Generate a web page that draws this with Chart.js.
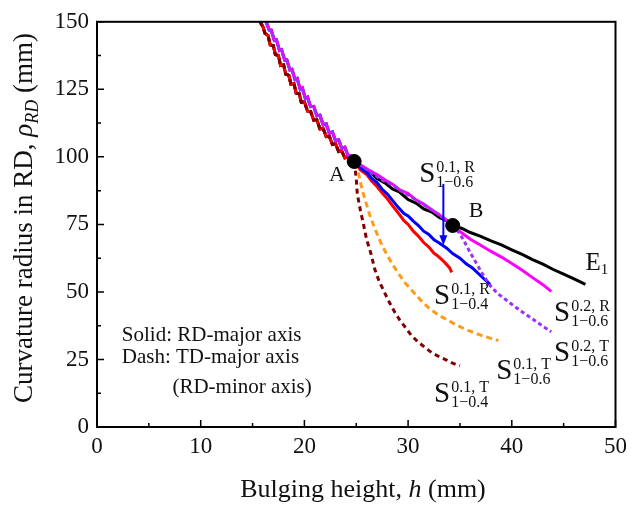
<!DOCTYPE html>
<html>
<head>
<meta charset="utf-8">
<script src="https://cdn.jsdelivr.net/npm/chart.js@4.4.1/dist/chart.umd.min.js"></script>
<style>
  html, body { margin: 0; padding: 0; background: #fff; }
  #wrap { width: 633px; height: 506px; }
</style>
</head>
<body>
<div id="wrap"><canvas id="grafico"></canvas></div>
<script>
// Trecho comum antes do ponto A (duas faixas, lado esquerdo e direito do feixe)
const trunkA_h   = [15.7, 16.0, 16.2, 16.5, 16.7, 17.0, 17.2, 17.5, 17.7, 18.0, 18.2, 18.5, 18.7, 19.0, 19.2, 19.5, 19.7, 20.0, 20.3, 20.6, 20.9, 21.2, 21.5, 21.8, 22.1, 22.4, 22.7, 23.0, 23.3, 23.6, 23.9, 24.2, 24.5, 24.8];
const trunkA_rho = [150, 148.2, 145.7, 144.9, 141.4, 141.2, 137.9, 137.5, 133.8, 134.0, 130.6, 130.2, 126.9, 127.1, 123.6, 123.4, 120.2, 120.4, 116.9, 116.8, 113.6, 113.7, 110.3, 110.6, 107.5, 107.6, 104.6, 104.9, 102.0, 102.2, 99.6, 99.9, 98.7, 98.3];
const trunkB_h   = [16.3, 16.6, 16.8, 17.1, 17.3, 17.6, 17.8, 18.1, 18.3, 18.6, 18.8, 19.1, 19.3, 19.6, 19.8, 20.1, 20.3, 20.6, 20.9, 21.2, 21.5, 21.8, 22.1, 22.4, 22.7, 23.0, 23.3, 23.6, 23.9, 24.2, 24.5, 24.8];
const trunkB_rho = [150, 147.0, 146.9, 143.1, 143.3, 139.4, 139.7, 135.8, 135.9, 132.2, 132.4, 128.6, 129.0, 125.0, 125.5, 121.5, 122.1, 118.6, 118.7, 115.2, 115.4, 111.9, 112.2, 108.8, 109.2, 106.0, 106.3, 103.2, 103.6, 100.6, 100.2, 98.3];

// Ramos depois de A
const e1_h     = [25.5, 26.2, 27.0, 27.8, 28.5, 29.2, 30.0, 30.8, 31.5, 32.3, 33.0, 33.7, 34.3, 35.2, 36.0, 37.0, 38.0, 39.0, 40.0, 41.0, 42.0, 43.0, 44.0, 45.0, 46.0, 47.1];
const e1_rho   = [96.2, 94.9, 92.0, 90.3, 88.1, 86.9, 84.2, 82.8, 80.7, 79.6, 77.6, 76.4, 74.6, 73.5, 72.0, 70.6, 68.9, 67.4, 65.6, 63.9, 62.0, 60.3, 58.3, 56.6, 54.8, 52.8];
const s02r_h   = [25.5, 26.2, 27.0, 27.8, 28.5, 29.2, 30.0, 30.8, 31.5, 32.3, 33.0, 33.7, 34.3, 35.2, 36.0, 37.0, 38.0, 39.0, 40.0, 41.0, 42.0, 43.0, 43.8];
const s02r_rho = [96.8, 95.1, 93.5, 91.4, 89.9, 87.8, 86.4, 84.0, 82.5, 80.3, 78.6, 76.7, 74.6, 71.8, 69.5, 67.3, 65.0, 62.9, 60.5, 58.0, 55.3, 52.7, 50.2];
const s02t_h   = [25.5, 26.5, 27.5, 28.5, 29.5, 30.5, 31.5, 32.5, 33.5, 34.3, 35.0, 35.5, 36.0, 36.6, 37.2, 37.9, 38.6, 39.4, 40.1, 41.0, 42.0, 43.0, 43.8];
const s02t_rho = [96.6, 94.0, 91.4, 89.6, 86.9, 84.7, 82.2, 79.9, 77.0, 74.6, 71.5, 68.1, 64.5, 60.5, 56.5, 52.4, 49.5, 47.2, 45.1, 42.6, 40.0, 37.3, 35.3];
const s01r6_h  = [25.5, 26.0, 26.5, 27.0, 27.5, 28.0, 28.5, 29.0, 29.6, 30.0, 30.5, 31.0, 31.5, 32.0, 32.5, 33.0, 33.7, 34.3, 35.0, 35.6, 36.2, 37.0, 37.9];
const s01r6_rho= [95.6, 94.3, 92.0, 90.5, 88.0, 86.2, 83.9, 81.5, 79.0, 78.1, 76.2, 74.6, 72.5, 71.3, 69.3, 68.1, 66.3, 64.2, 62.5, 60.4, 58.9, 56.0, 52.8];
const s01r4_h  = [25.4, 26.0, 26.5, 27.0, 27.5, 28.0, 28.5, 29.0, 29.6, 30.0, 30.5, 31.0, 31.5, 32.0, 32.5, 32.8, 33.3, 33.7, 34.0, 34.2];
const s01r4_rho= [95.2, 93.5, 91.0, 89.0, 86.6, 84.5, 81.9, 79.5, 76.4, 75.0, 72.5, 70.6, 68.3, 66.6, 64.3, 63.5, 61.8, 60.2, 58.9, 57.2];
const s01t6_h  = [25.2, 25.6, 26.0, 26.3, 26.7, 27.1, 27.5, 28.0, 28.5, 29.0, 29.7, 30.5, 31.3, 32.1, 33.0, 33.8, 34.6, 35.4, 36.2, 37.0, 37.9, 38.7];
const s01t6_rho= [94.0, 87.4, 82.3, 78.5, 74.4, 70.6, 67.1, 63.5, 60.2, 57.2, 53.4, 50.0, 46.6, 43.7, 41.3, 39.6, 37.9, 36.4, 35.1, 34.0, 32.9, 32.0];
const s01t4_h  = [25.0, 25.1, 25.4, 25.7, 26.0, 26.4, 26.8, 27.2, 27.7, 28.2, 28.7, 29.2, 29.8, 30.3, 30.9, 31.6, 32.3, 33.0, 33.7, 34.3, 35.0];
const s01t4_rho= [92.0, 86.3, 80.2, 75.0, 69.4, 64.4, 58.2, 54.0, 50.0, 46.1, 42.6, 39.6, 36.5, 34.0, 31.7, 29.5, 27.5, 26.0, 24.8, 23.6, 22.6];

// Pontos A e B
const marcaH   = [24.8, 34.3];
const marcaRho = [98.3, 74.6];

const xTicks = [0, 10, 20, 30, 40, 50];
const yTicks = [0, 25, 50, 75, 100, 125, 150];

const SERIF = '"Liberation Serif", "Times New Roman", serif';

function pontos(hs, rs) { return hs.map((h, i) => ({ x: h, y: rs[i] })); }
function comTronco(th, tr, bh, br) { return pontos(th, tr).concat(pontos(bh, br)); }

function linha(label, data, cor, dash) {
  return {
    label, data, borderColor: cor, backgroundColor: cor, borderWidth: 3,
    borderDash: dash || [], pointRadius: 0, tension: 0, showLine: true, fill: false
  };
}

// Ordem: primeiro da lista fica por cima
const datasets = [
  { label: "A/B", data: pontos(marcaH, marcaRho), type: "scatter", pointRadius: 7, pointHoverRadius: 7,
    backgroundColor: "#000", borderColor: "#000", showLine: false },
  linha("S02T", comTronco(trunkB_h, trunkB_rho, s02t_h, s02t_rho), "#9b30ff", [4, 3]),
  linha("S02R", comTronco(trunkB_h, trunkB_rho, s02r_h, s02r_rho), "#ff00ff"),
  linha("S01R6", comTronco(trunkB_h, trunkB_rho, s01r6_h, s01r6_rho), "#0000ff"),
  linha("S01T6", comTronco(trunkB_h, trunkB_rho, s01t6_h, s01t6_rho), "#ff9a1a", [6, 4]),
  linha("S01T4", comTronco(trunkA_h, trunkA_rho, s01t4_h, s01t4_rho), "#800000", [5, 4]),
  linha("S01R4", comTronco(trunkA_h, trunkA_rho, s01r4_h, s01r4_rho), "#ff0000"),
  linha("E1", comTronco(trunkA_h, trunkA_rho, e1_h, e1_rho), "#000000")
];

// Textos com sobrescrito/subscrito
function rotuloS(ctx, x, y, sup, sub) {
  ctx.font = "29px " + SERIF;
  ctx.fillText("S", x, y);
  const w = ctx.measureText("S").width;
  ctx.font = "16px " + SERIF;
  ctx.fillText(sup, x + w + 1, y - 10);
  ctx.fillText(sub, x + w + 1, y + 5);
}

function trechos(ctx, partes, x, y) {
  let cx = x;
  partes.forEach((p) => {
    ctx.font = p.font;
    ctx.fillText(p.t, cx, y + (p.dy || 0));
    cx += ctx.measureText(p.t).width;
  });
  return cx - x;
}

function larguraTrechos(ctx, partes) {
  return partes.reduce((s, p) => { ctx.font = p.font; return s + ctx.measureText(p.t).width; }, 0);
}

const desenhos = {
  id: "desenhos",
  afterDraw(chart) {
    const { ctx, chartArea: a, scales: { x, y } } = chart;
    ctx.save();
    ctx.fillStyle = "#000";
    ctx.strokeStyle = "#000";
    ctx.textBaseline = "alphabetic";
    ctx.textAlign = "left";

    // moldura
    ctx.lineWidth = 2;
    ctx.strokeRect(a.left, a.top, a.right - a.left, a.bottom - a.top);

    // ticks para dentro
    ctx.lineWidth = 1.5;
    ctx.beginPath();
    for (let v = 0; v <= 50; v += 5) {
      const px = x.getPixelForValue(v);
      const len = v % 10 === 0 ? 7 : 4;
      ctx.moveTo(px, a.bottom); ctx.lineTo(px, a.bottom - len);
    }
    for (let v = 0; v <= 150; v += 12.5) {
      const py = y.getPixelForValue(v);
      const len = v % 25 === 0 ? 7 : 4;
      ctx.moveTo(a.left, py); ctx.lineTo(a.left + len, py);
    }
    ctx.stroke();

    // seta azul
    const ax = x.getPixelForValue(33.4);
    const ay0 = y.getPixelForValue(90);
    const ay1 = y.getPixelForValue(67.3);
    ctx.strokeStyle = "#0000ff";
    ctx.fillStyle = "#0000ff";
    ctx.lineWidth = 2;
    ctx.beginPath(); ctx.moveTo(ax, ay0); ctx.lineTo(ax, ay1 - 8); ctx.stroke();
    ctx.beginPath(); ctx.moveTo(ax - 4, ay1 - 10); ctx.lineTo(ax + 4, ay1 - 10); ctx.lineTo(ax, ay1); ctx.closePath(); ctx.fill();

    ctx.fillStyle = "#111";
    const P = (h, r) => [x.getPixelForValue(h), y.getPixelForValue(r)];

    // A, B, E1
    ctx.font = "22px " + SERIF;
    let p = P(22.37, 91.0); ctx.fillText("A", p[0], p[1]);
    p = P(35.85, 77.9); ctx.fillText("B", p[0], p[1]);
    p = P(47.1, 58.2);
    trechos(ctx, [{ t: "E", font: "25px " + SERIF }, { t: "1", font: "15px " + SERIF, dy: 4 }], p[0], p[1]);

    // rótulos das séries
    p = P(31.07, 90.6); rotuloS(ctx, p[0], p[1], "0.1, R", "1\u22120.6");
    p = P(32.5, 45.5);  rotuloS(ctx, p[0], p[1], "0.1, R", "1\u22120.4");
    p = P(44.07, 39.3); rotuloS(ctx, p[0], p[1], "0.2, R", "1\u22120.6");
    p = P(44.07, 24.4); rotuloS(ctx, p[0], p[1], "0.2, T", "1\u22120.6");
    p = P(38.5, 17.8);  rotuloS(ctx, p[0], p[1], "0.1, T", "1\u22120.6");
    p = P(32.5, 9.1);   rotuloS(ctx, p[0], p[1], "0.1, T", "1\u22120.4");

    // legenda em texto
    ctx.font = "21px " + SERIF;
    p = P(2.39, 31.7); ctx.fillText("Solid: RD-major axis", p[0], p[1]);
    p = P(2.39, 23.7); ctx.fillText("Dash: TD-major axis", p[0], p[1]);
    p = P(7.27, 12.7); ctx.fillText("(RD-minor axis)", p[0], p[1]);

    // títulos dos eixos
    const tx = [
      { t: "Bulging height, ", font: "26px " + SERIF },
      { t: "h", font: "italic 26px " + SERIF },
      { t: " (mm)", font: "26px " + SERIF }
    ];
    const wx = larguraTrechos(ctx, tx);
    trechos(ctx, tx, 363 - wx / 2, 497);

    const ty = [
      { t: "Curvature radius in RD, ", font: "27px " + SERIF },
      { t: "\u03c1", font: "italic 27px " + SERIF },
      { t: "RD", font: "italic 18px " + SERIF, dy: 6 },
      { t: " (mm)", font: "27px " + SERIF }
    ];
    const wy = larguraTrechos(ctx, ty);
    ctx.translate(32, 218);
    ctx.rotate(-Math.PI / 2);
    trechos(ctx, ty, -wy / 2, 0);
    ctx.restore();
  }
};

new Chart(document.getElementById("grafico"), {
  type: "scatter",
  data: { datasets },
  options: {
    responsive: true,
    maintainAspectRatio: false,
    animation: false,
    events: [],
    layout: { padding: { top: 15, right: 12, left: 0, bottom: 0 } },
    plugins: { legend: { display: false }, tooltip: { enabled: false } },
    scales: {
      x: {
        type: "linear", min: 0, max: 50,
        afterFit: (s) => { s.height = 79; },
        afterBuildTicks: (s) => { s.ticks = xTicks.map((v) => ({ value: v })); },
        grid: { display: false, drawTicks: false },
        border: { display: false },
        ticks: { color: "#111", padding: 6, font: { family: SERIF, size: 23 } }
      },
      y: {
        type: "linear", min: 0, max: 150,
        afterFit: (s) => { s.width = 97; },
        afterBuildTicks: (s) => { s.ticks = yTicks.map((v) => ({ value: v })); },
        grid: { display: false, drawTicks: false },
        border: { display: false },
        ticks: { color: "#111", padding: 8, font: { family: SERIF, size: 23 } }
      }
    }
  },
  plugins: [desenhos]
});
</script>
</body>
</html>
